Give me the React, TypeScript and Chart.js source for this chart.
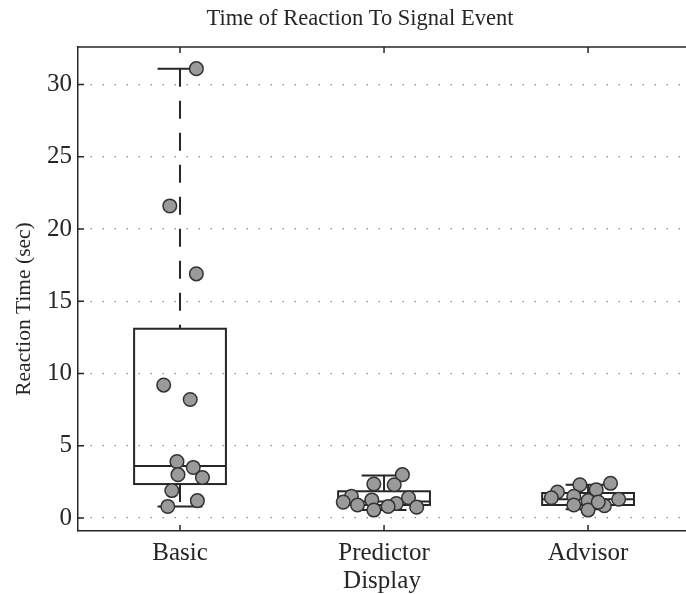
import React, { useEffect, useRef } from "react";
import { Chart, registerables } from "chart.js";

Chart.register(...registerables);

const chartTitle = "Time of Reaction To Signal Event";
const yAxisTitle = "Reaction Time (sec)";
const xAxisTitle = "Display";
const categories = ["Basic", "Predictor", "Advisor"];
const yTickValues = [0, 5, 10, 15, 20, 25, 30];

// raw observations (seconds) and their horizontal jitter around each category
const basicValues = [31.1, 21.6, 16.9, 9.2, 8.2, 3.9, 3.5, 3.0, 2.8, 1.9, 1.2, 0.8];
const basicJitter = [0.08, -0.05, 0.08, -0.08, 0.05, -0.015, 0.065, -0.01, 0.11, -0.04, 0.085, -0.06];
const predictorValues = [3.0, 2.35, 2.3, 1.5, 1.4, 1.25, 1.1, 0.9, 0.75, 0.55, 1.0, 0.8];
const predictorJitter = [0.09, -0.05, 0.05, -0.16, 0.12, -0.06, -0.2, -0.13, 0.16, -0.05, 0.06, 0.02];
const advisorValues = [2.3, 2.4, 1.95, 1.8, 1.5, 1.3, 1.2, 0.9, 0.55, 0.85, 1.4, 1.1];
const advisorJitter = [-0.04, 0.11, 0.04, -0.15, -0.07, 0.15, 0.0, -0.07, 0.0, 0.08, -0.18, 0.05];

// box statistics per category
const boxQ1 = [2.35, 0.9, 0.9];
const boxMedian = [3.6, 1.15, 1.3];
const boxQ3 = [13.1, 1.85, 1.73];
const whiskerLow = [0.8, 0.55, 0.6];
const whiskerHigh = [31.1, 2.95, 2.3];

const BOX_HALF = 0.225;
const CAP_HALF = 0.11;
const FONT = "'Liberation Serif', 'Times New Roman', serif";
const INK = "#262626";

const boxPlugin = {
  id: "boxes",
  beforeDatasetsDraw(chart: any) {
    const { ctx, chartArea, scales } = chart;
    const x = scales.x;
    const y = scales.y;
    ctx.save();
    ctx.beginPath();
    ctx.rect(chartArea.left, chartArea.top, chartArea.right - chartArea.left, chartArea.bottom - chartArea.top);
    ctx.clip();
    ctx.strokeStyle = INK;
    ctx.lineWidth = 2;
    categories.forEach((_, i) => {
      const c = i + 1;
      const xl = x.getPixelForValue(c - BOX_HALF);
      const xr = x.getPixelForValue(c + BOX_HALF);
      const xc = x.getPixelForValue(c);
      const cl = x.getPixelForValue(c - CAP_HALF);
      const cr = x.getPixelForValue(c + CAP_HALF);
      const yq1 = y.getPixelForValue(boxQ1[i]);
      const yq3 = y.getPixelForValue(boxQ3[i]);
      const ymed = y.getPixelForValue(boxMedian[i]);
      const ylo = y.getPixelForValue(whiskerLow[i]);
      const yhi = y.getPixelForValue(whiskerHigh[i]);
      ctx.setLineDash([]);
      ctx.strokeRect(xl, yq3, xr - xl, yq1 - yq3);
      ctx.beginPath();
      ctx.moveTo(xl, ymed);
      ctx.lineTo(xr, ymed);
      ctx.stroke();
      ctx.beginPath();
      ctx.moveTo(cl, yhi);
      ctx.lineTo(cr, yhi);
      ctx.moveTo(cl, ylo);
      ctx.lineTo(cr, ylo);
      ctx.stroke();
      ctx.setLineDash([18, 14]);
      ctx.beginPath();
      ctx.moveTo(xc, yhi);
      ctx.lineTo(xc, yq3);
      ctx.stroke();
      ctx.beginPath();
      ctx.moveTo(xc, yq1);
      ctx.lineTo(xc, ylo);
      ctx.stroke();
    });
    ctx.restore();
  },
  afterDraw(chart: any) {
    const { ctx, chartArea, scales } = chart;
    const x = scales.x;
    const y = scales.y;
    ctx.save();
    ctx.strokeStyle = INK;
    ctx.lineWidth = 1.5;
    ctx.setLineDash([]);
    ctx.beginPath();
    ctx.moveTo(chartArea.left, chartArea.top);
    ctx.lineTo(chartArea.right, chartArea.top);
    ctx.stroke();
    ctx.beginPath();
    yTickValues.forEach((v) => {
      const py = y.getPixelForValue(v);
      ctx.moveTo(chartArea.left, py);
      ctx.lineTo(chartArea.left + 6, py);
    });
    categories.forEach((_, i) => {
      const px = x.getPixelForValue(i + 1);
      ctx.moveTo(px, chartArea.bottom);
      ctx.lineTo(px, chartArea.bottom - 6);
      ctx.moveTo(px, chartArea.top);
      ctx.lineTo(px, chartArea.top + 6);
    });
    ctx.stroke();

    // titles
    ctx.fillStyle = INK;
    ctx.textAlign = "center";
    ctx.textBaseline = "middle";
    ctx.font = `22.5px ${FONT}`;
    ctx.fillText(chartTitle, 360, 19);
    ctx.translate(24, 309);
    ctx.rotate(-Math.PI / 2);
    ctx.font = `21.5px ${FONT}`;
    ctx.fillText(yAxisTitle, 0, 0);
    ctx.restore();
  },
};

function makePoints(values: number[], jitter: number[], c: number) {
  return values.map((v, i) => ({ x: c + jitter[i], y: v }));
}

export default function App() {
  const canvasRef = useRef<HTMLCanvasElement | null>(null);

  useEffect(() => {
    if (!canvasRef.current) return;
    const pointStyle = {
      pointRadius: 6.8,
      pointBackgroundColor: "#9a9a9a",
      pointBorderColor: "#333333",
      pointBorderWidth: 1.5,
      showLine: false,
    };
    const chart = new Chart(canvasRef.current, {
      type: "scatter",
      data: {
        datasets: [
          { label: categories[0], data: makePoints(basicValues, basicJitter, 1), ...pointStyle },
          { label: categories[1], data: makePoints(predictorValues, predictorJitter, 2), ...pointStyle },
          { label: categories[2], data: makePoints(advisorValues, advisorJitter, 3), ...pointStyle },
        ],
      },
      options: {
        responsive: false,
        animation: false,
        layout: { autoPadding: false, padding: { top: 47, right: 0, bottom: 0, left: 0 } },
        plugins: {
          legend: { display: false },
          tooltip: { enabled: false },
          title: { display: false },
        },
        scales: {
          x: {
            type: "linear",
            min: 0.5,
            max: 3.48,
            afterBuildTicks: (s: any) => {
              s.ticks = categories.map((_, i) => ({ value: i + 1 }));
            },
            afterFit: (s: any) => {
              s.height = 63;
            },
            ticks: {
              callback: (v: any) => categories[Math.round(Number(v)) - 1] ?? "",
              color: INK,
              font: { family: FONT, size: 25 },
              padding: 7,
              autoSkip: false,
              maxRotation: 0,
            },
            grid: { display: false, drawTicks: false },
            border: { display: true, color: INK, width: 1.5 },
            title: {
              display: true,
              text: xAxisTitle,
              color: INK,
              font: { family: FONT, size: 25 },
              padding: { top: 0, bottom: -2 },
            },
          },
          y: {
            type: "linear",
            min: -0.9,
            max: 32.6,
            afterBuildTicks: (s: any) => {
              s.ticks = yTickValues.map((v) => ({ value: v }));
            },
            afterFit: (s: any) => {
              s.width = 78;
            },
            ticks: {
              color: INK,
              font: { family: FONT, size: 25 },
              padding: 6,
            },
            grid: { color: "#8a8a8a", lineWidth: 1.3, drawTicks: false },
            border: { display: true, color: INK, width: 1.5, dash: [1.5, 10.5] },
            title: { display: false },
          },
        },
      },
      plugins: [boxPlugin],
    } as any);
    return () => chart.destroy();
  }, []);

  return (
    <div style={{ position: "fixed", left: 0, top: 0, width: 686, height: 594, background: "#ffffff", overflow: "hidden" }}>
      <canvas ref={canvasRef} width={686} height={594} style={{ display: "block" }} />
    </div>
  );
}
